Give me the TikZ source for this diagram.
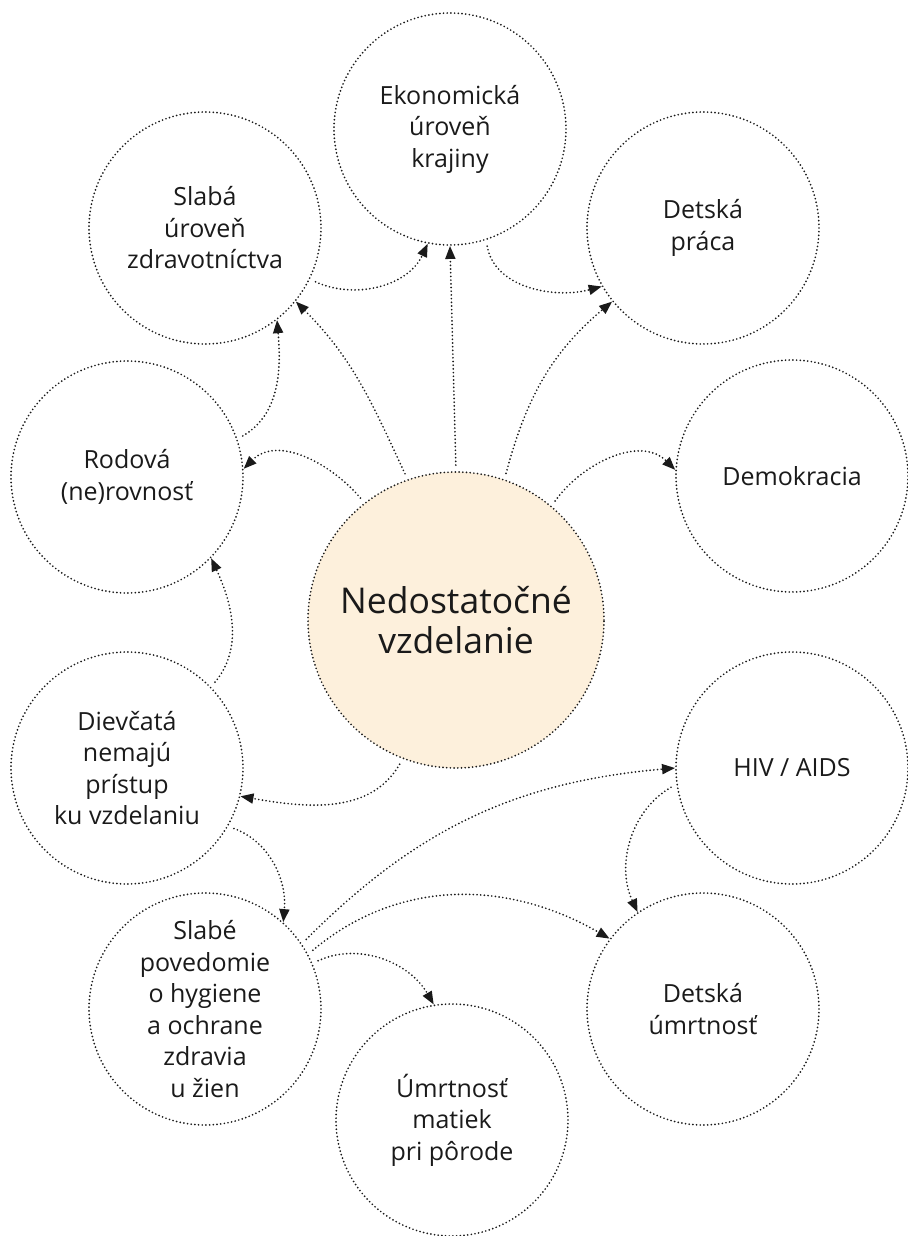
\documentclass[tikz,border=0pt]{standalone}
\usepackage{fontspec}
\setmainfont{Open Sans}
\usetikzlibrary{arrows.meta}
\definecolor{ink}{HTML}{1A1A1A}
\definecolor{cream}{HTML}{FDF0DC}
\begin{document}
\begin{tikzpicture}[x=1pt,y=-1pt,
  bubble/.style={circle, draw=ink, line width=1.9pt, dash pattern=on 0pt off 3.7pt, line cap=round,
    minimum size=232pt, inner sep=0pt, align=center, font=\fontsize{25}{31.5}\selectfont, text=ink},
  hub/.style={bubble, minimum size=296pt, fill=cream, font=\fontsize{35.5}{40}\selectfont},
  link/.style={draw=ink, line width=1.9pt, dash pattern=on 0pt off 3.7pt, line cap=round,
    shorten <=6pt, -{Triangle[length=13pt,width=10pt]}}
]
\useasboundingbox (0,0) rectangle (907,1236);

\node[hub] (ned) at (456,620) {Nedostatočné\\vzdelanie};
\node[bubble] (ekon) at (450,129) {Ekonomická\\úroveň\\krajiny};
\node[bubble] (zdrav) at (205,228) {Slabá\\úroveň\\zdravotníctva};
\node[bubble] (praca) at (703,228) {Detská\\práca};
\node[bubble] (rod) at (127,477) {Rodová\\(ne)rovnosť};
\node[bubble] (demo) at (792,476) {Demokracia};
\node[bubble] (diev) at (127,768) {Dievčatá\\nemajú\\prístup\\ku vzdelaniu};
\node[bubble] (hiv) at (792,768) {HIV / AIDS};
\node[bubble] (hyg) at (205,1009) {Slabé\\povedomie\\o hygiene\\a ochrane\\zdravia\\u žien};
\node[bubble] (umrt) at (703,1009) {Detská\\úmrtnosť};
\node[bubble] (mat) at (452,1120) {Úmrtnosť\\matiek\\pri pôrode};

\draw[link] (zdrav.-26) to[out=-25,in=-115] (ekon.-101);
\draw[link] (ned.north) -- (ekon.south);
\draw[link] (ekon.-72) to[out=-80,in=-165] (praca.-150);
\draw[link] (ned.109) to[out=115,in=-45] (zdrav.-39);
\draw[link] (ned.71) to[out=75,in=-140] (praca.-141);
\draw[link] (rod.19) to[out=30,in=-85] (zdrav.-52);
\draw[link] (ned.128) to[out=130,in=45] (rod.4);
\draw[link] (ned.50) to[out=55,in=135] (demo.177);
\draw[link] (diev.44) to[out=50,in=-65] (rod.-44);
\draw[link] (ned.-111) to[out=-120,in=-10] (diev.-14);
\draw[link] (diev.-30) to[out=-20,in=85] (hyg.48);
\draw[link] (hyg.34) to[out=45,in=-175] (hiv.180);
\draw[link] (hiv.-172) to[out=-150,in=115] (umrt.124);
\draw[link] (hyg.28) to[out=40,in=150] (umrt.143);
\draw[link] (hyg.23) to[out=25,in=120] (mat.99);
\end{tikzpicture}
\end{document}
